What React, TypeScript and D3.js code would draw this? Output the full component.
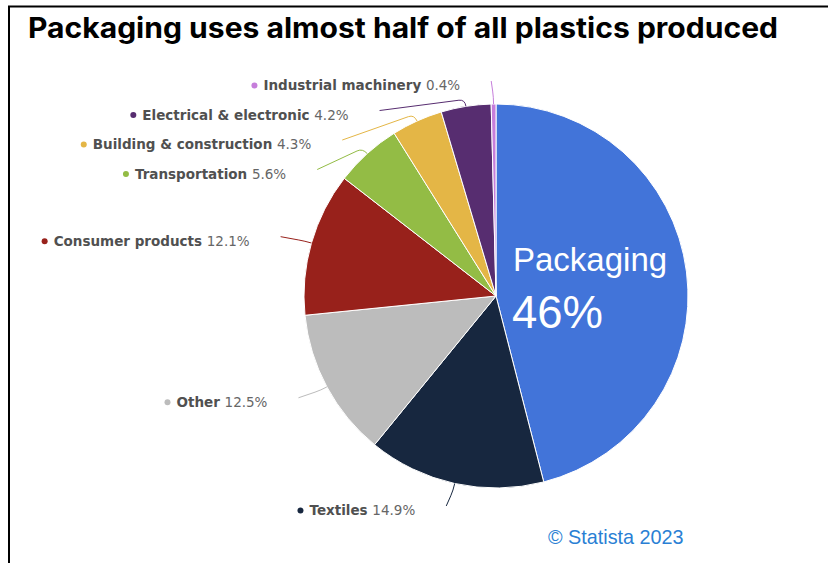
import React from "react";
import * as d3 from "d3";

// share of global plastics production by sector, clockwise from 12 o'clock
const categories = [
    "Packaging",
    "Textiles",
    "Other",
    "Consumer products",
    "Transportation",
    "Building & construction",
    "Electrical & electronic",
    "Industrial machinery",
];
const shares = [46, 14.9, 12.5, 12.1, 5.6, 4.3, 4.2, 0.4];
const sliceColors = [
    "#4274d9",
    "#17273f",
    "#bcbcbc",
    "#98211b",
    "#93bc45",
    "#e4b646",
    "#572d70",
    "#c67edb",
];

const title = "Packaging uses almost half of all plastics produced";
const credit = "\u00a9 Statista 2023";

const W = 828;
const H = 563;

const App = () => {
    const svgRef = React.useRef<SVGSVGElement>(null);

    React.useEffect(() => {
        const cx = 496;
        const cy = 296;
        const radius = 192;
        const labelRadius = 219; // where connectors meet the labels
        const labelGap = 29.5; // min vertical spacing between labels
        const textPad = 31; // connector end -> text end

        const svg = d3.select(svgRef.current);
        svg.selectAll("*").remove();

        // frame
        svg.append("path")
            .attr("d", `M9,${H} L9,6.5 L${W},6.5`)
            .attr("fill", "none")
            .attr("stroke", "#000")
            .attr("stroke-width", 2);

        svg.append("text")
            .attr("x", 28)
            .attr("y", 38)
            .attr("font-family", "Inter, 'Open Sans', sans-serif")
            .attr("font-weight", 700)
            .attr("font-size", 28)
            .attr("textLength", 750)
            .attr("lengthAdjust", "spacingAndGlyphs")
            .attr("fill", "#000")
            .text(title);

        const pie = d3.pie<number>().sort(null).value(d => d);
        const arcs = pie(shares);
        const arc = d3.arc<d3.PieArcDatum<number>>().innerRadius(0).outerRadius(radius);

        const polar = (r: number, a: number): [number, number] =>
            [cx + r * Math.sin(a), cy - r * Math.cos(a)];

        const chart = svg.append("g");

        chart.selectAll("path.slice")
            .data(arcs)
            .enter()
            .append("path")
            .attr("class", "slice")
            .attr("transform", `translate(${cx},${cy})`)
            .attr("d", arc)
            .attr("fill", (d, i) => sliceColors[i])
            .attr("stroke", "#fff")
            .attr("stroke-width", 1)
            .attr("stroke-linejoin", "round");

        // outside labels for everything but packaging
        type lab = { i: number, a: number, y: number, x: number, moved: boolean };
        const labels: lab[] = arcs
            .map((d, i) => {
                const a = (d.startAngle + d.endAngle) / 2;
                return { i, a, y: polar(labelRadius - 4, a)[1], x: 0, moved: false };
            })
            .filter(l => l.i > 0)
            .sort((p, q) => p.y - q.y);

        labels.forEach((l, k) => {
            if (k > 0 && l.y < labels[k - 1].y + labelGap) {
                l.y = labels[k - 1].y + labelGap;
                l.moved = true;
            }
            if (l.moved) {
                const dy = l.y - cy;
                l.x = cx - Math.sqrt(Math.max(0, labelRadius * labelRadius - dy * dy));
            } else {
                l.x = polar(labelRadius + 3, l.a)[0] - 2;
            }
        });

        const labelG = chart.append("g");

        labels.forEach(l => {
            const color = sliceColors[l.i];
            const E = polar(radius, l.a);
            const B = polar(radius + 7, l.a);
            const L: [number, number] = [l.x, l.y];
            const dx = L[0] - B[0];
            const dy = L[1] - B[1];
            const len = Math.hypot(dx, dy) || 1;
            const k = Math.min(6, len / 2);
            const P: [number, number] = [B[0] + dx / len * k, B[1] + dy / len * k];

            const p = d3.path();
            p.moveTo(L[0], L[1]);
            p.lineTo(P[0], P[1]);
            p.quadraticCurveTo(B[0], B[1], E[0], E[1]);

            labelG.append("path")
                .attr("d", p.toString())
                .attr("fill", "none")
                .attr("stroke", color)
                .attr("stroke-width", 1);

            const t = labelG.append("text")
                .attr("x", l.x - textPad)
                .attr("y", l.y + 9)
                .attr("text-anchor", "end")
                .attr("font-family", "'DejaVu Sans', Verdana, sans-serif")
                .attr("font-size", 13.5);
            t.append("tspan")
                .attr("font-weight", 700)
                .attr("fill", "#505050")
                .text(categories[l.i] + " ");
            t.append("tspan")
                .attr("fill", "#666")
                .text(d3.format(".1f")(shares[l.i]) + "%");

            const w = (t.node() as SVGTextElement).getComputedTextLength();
            labelG.append("circle")
                .attr("cx", l.x - textPad - w - 9)
                .attr("cy", l.y + 4.5)
                .attr("r", 3)
                .attr("fill", color);
        });

        // big in-slice annotation for packaging
        const ann = chart.append("g")
            .attr("font-family", "'Liberation Sans', Arial, sans-serif")
            .attr("fill", "#fff");
        ann.append("text")
            .attr("x", cx + 17)
            .attr("y", cy - 25)
            .attr("font-size", 33)
            .text(categories[0]);
        ann.append("text")
            .attr("x", cx + 16)
            .attr("y", cy + 32)
            .attr("font-size", 45.5)
            .text(d3.format(".0f")(shares[0]) + "%");

        svg.append("text")
            .attr("x", 548)
            .attr("y", 544)
            .attr("font-family", "'Liberation Sans', Arial, sans-serif")
            .attr("font-size", 19.8)
            .attr("fill", "#2a7fd4")
            .text(credit);
    }, []);

    return (
        <div style={{ position: "absolute", left: 0, top: 0, background: "#fff" }}>
            <svg ref={svgRef} width={W} height={H} />
        </div>
    );
};

export default App;
